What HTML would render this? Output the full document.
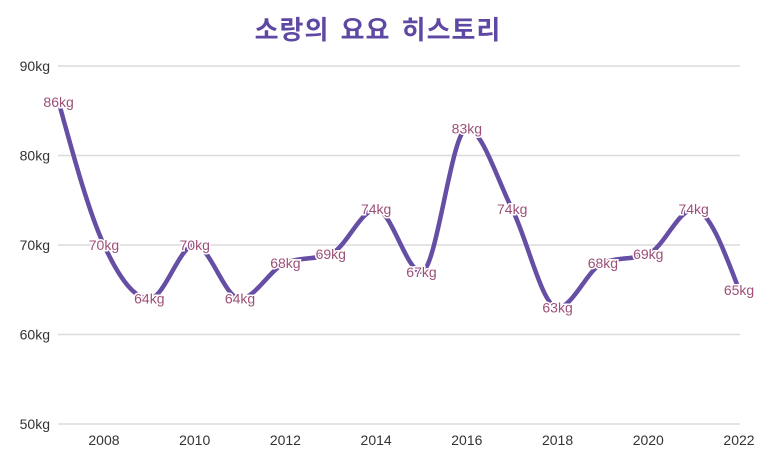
<!DOCTYPE html>
<html><head><meta charset="utf-8"><style>
body{margin:0;background:#fff;}
svg{display:block;font-family:"Liberation Sans","Noto Sans CJK KR",sans-serif;}
</style></head><body>
<svg id="chart" width="762" height="464">
<text x="378" y="39" text-anchor="middle" font-size="26" font-weight="bold" letter-spacing="1" word-spacing="3" fill="#5f48a3">소랑의 요요 히스토리</text>
<g id="grid"></g><g id="xaxis"></g><g id="series"></g><g id="labels"></g>
</svg>
<script>
const years=[2007,2008,2009,2010,2011,2012,2013,2014,2015,2016,2017,2018,2019,2020,2021,2022];
const weights=[86,70,64,70,64,68,69,74,67,83,74,63,68,69,74,65];
const yTicks=[50,60,70,80,90];
const xTicks=[2008,2010,2012,2014,2016,2018,2020,2022];
const NS='http://www.w3.org/2000/svg';
const x0=58.6,x1=739,y0=424,y1=66;
function xs(v){return x0+(v-2007)/(2022-2007)*(x1-x0);}
function ys(v){return y0-(v-50)/(90-50)*(y0-y1);}
function mk(t,a,p){const e=document.createElementNS(NS,t);for(const k in a)e.setAttribute(k,a[k]);p.appendChild(e);return e;}
const grid=document.getElementById('grid');
yTicks.forEach(t=>{
 const l=mk('line',{x1:58,x2:740,y1:ys(t),y2:ys(t),stroke:'#dcdcdc','stroke-width':1.5},grid);
 
 
 const tx=mk('text',{x:50,y:ys(t)+5,'text-anchor':'end','font-size':14,fill:'#333'},grid);
 tx.textContent=t+'kg';
 
 
});
const xa=document.getElementById('xaxis');
xTicks.forEach(t=>{
 const tx=mk('text',{x:xs(t),y:445,'text-anchor':'middle','font-size':14,fill:'#333'},xa);
 tx.textContent=t;
 
 
});
const px=years.map(xs),py=weights.map(ys),n=px.length;
const d=[],m=[];
for(let i=0;i<n-1;i++)d.push((py[i+1]-py[i])/(px[i+1]-px[i]));
for(let i=0;i<n;i++){
 if(i===0)m.push(d[0]);else if(i===n-1)m.push(d[n-2]);
 else{ if(d[i-1]*d[i]<=0)m.push(0);else{const h0=px[i]-px[i-1],h1=px[i+1]-px[i];const p=(d[i-1]*h1+d[i]*h0)/(h0+h1);
 m.push((Math.sign(d[i-1])+Math.sign(d[i]))*Math.min(Math.abs(d[i-1]),Math.abs(d[i]),0.5*Math.abs(p)));}}
}
m[0]=(3*d[0]-m[1])/2;m[n-1]=(3*d[n-2]-m[n-2])/2;
let path='M'+px[0]+','+py[0];
for(let i=0;i<n-1;i++){const h=(px[i+1]-px[i])/3;
 path+=' C'+(px[i]+h)+','+(py[i]+m[i]*h)+' '+(px[i+1]-h)+','+(py[i+1]-m[i+1]*h)+' '+px[i+1]+','+py[i+1];}
const line=mk('path',{d:path,fill:'none',stroke:'#654ea3','stroke-width':4.5},document.getElementById('series'));


const lb=document.getElementById('labels');
years.forEach((y,i)=>{
 const tx=mk('text',{x:xs(y),y:ys(weights[i])+5,'text-anchor':'middle','font-size':14,fill:'#9c4f78',stroke:'#fff','stroke-width':3,'paint-order':'stroke'},lb);
 tx.textContent=weights[i]+'kg';
 
 
});
</script>
</body></html>
